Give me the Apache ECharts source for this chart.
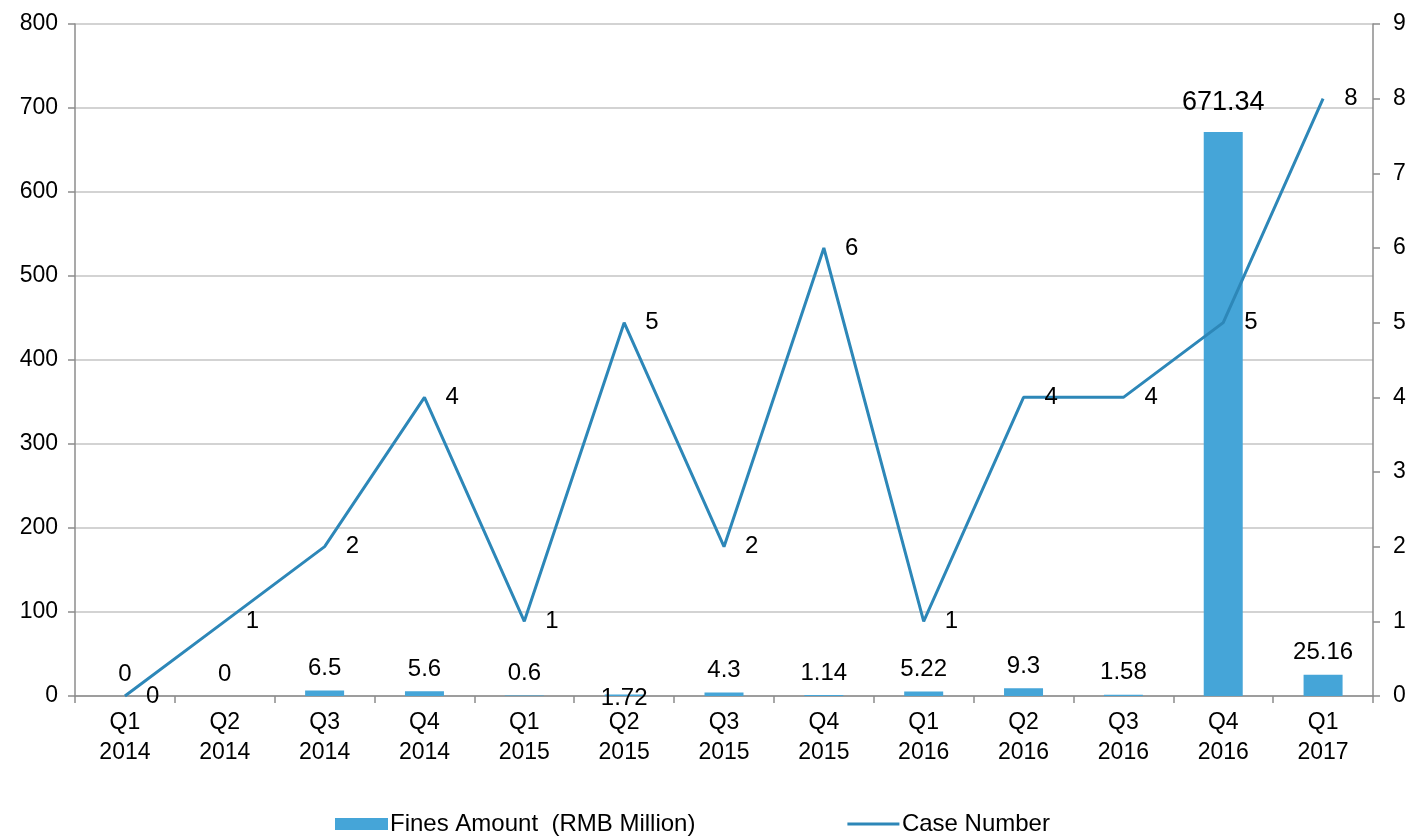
<!DOCTYPE html>
<html>
<head>
<meta charset="utf-8">
<script src="https://cdn.jsdelivr.net/npm/echarts@6/dist/echarts.min.js"></script>
<style>
html,body{margin:0;padding:0;background:#fff;}
#chart{width:1421px;height:836px;}
</style>
</head>
<body>
<div id="chart"></div>
<script>
var quarters = ['Q1','Q2','Q3','Q4','Q1','Q2','Q3','Q4','Q1','Q2','Q3','Q4','Q1'];
var years = ['2014','2014','2014','2014','2015','2015','2015','2015','2016','2016','2016','2016','2017'];
var finesAmount = [0, 0, 6.5, 5.6, 0.6, 1.72, 4.3, 1.14, 5.22, 9.3, 1.58, 671.34, 25.16];
var caseNumber = [0, 1, 2, 4, 1, 5, 2, 6, 1, 4, 4, 5, 8];
var leftTicks = [0, 100, 200, 300, 400, 500, 600, 700, 800];
var rightTicks = [0, 1, 2, 3, 4, 5, 6, 7, 8, 9];

var categories = quarters.map(function (q, i) { return q + '\n' + years[i]; });
var FONT = 'Liberation Sans, Arial, sans-serif';
var axisGrey = '#8c8c8c';
var lineColor = '#2d87b8';

var barData = finesAmount.map(function (v, i) {
  var item = { value: v };
  if (i === 5) item.label = { offset: [0, 26] };
  if (v > 600) item.label = { fontSize: 27, distance: 16 };
  return item;
});

var chart = echarts.init(document.getElementById('chart'));
chart.setOption({
  animation: false,
  backgroundColor: '#ffffff',
  textStyle: { fontFamily: FONT, color: '#000' },
  grid: { left: 75, right: 48, top: 24, bottom: 140, containLabel: false },
  legend: {
    bottom: -5,
    left: 330,
    itemGap: 152,
    itemWidth: 53,
    itemHeight: 12,
    textStyle: { fontFamily: 'Liberation Sans Narrow, Liberation Sans, Arial', fontSize: 24, color: '#000', padding: [0, 0, 0, -3] },
    data: [
      { name: 'Fines Amount  (RMB Million)', icon: 'rect', itemStyle: { color: '#45a5d8' } },
      { name: 'Case Number', icon: 'path://M0,0L0.01,0M0,4.5L52,4.5L52,7.5L0,7.5ZM0,12L0.01,12', itemStyle: { color: lineColor } }
    ]
  },
  xAxis: {
    type: 'category',
    data: categories,
    boundaryGap: true,
    axisLine: { lineStyle: { color: axisGrey, width: 1.5 } },
    axisTick: { show: true, alignWithLabel: false, length: 7, lineStyle: { color: axisGrey, width: 1.5 } },
    axisLabel: { fontSize: 23, color: '#000', lineHeight: 30, margin: 12, fontFamily: FONT }
  },
  yAxis: [
    {
      type: 'value', min: leftTicks[0], max: leftTicks[leftTicks.length - 1], interval: leftTicks[1] - leftTicks[0],
      position: 'left',
      axisLine: { show: true, lineStyle: { color: axisGrey, width: 1.5 } },
      axisTick: { show: true, length: 7, lineStyle: { color: axisGrey, width: 1.5 } },
      splitLine: { show: true, lineStyle: { color: '#c4c4c4', width: 1.5 } },
      axisLabel: { fontSize: 23, color: '#000', margin: 17, fontFamily: FONT }
    },
    {
      type: 'value', min: rightTicks[0], max: rightTicks[rightTicks.length - 1], interval: rightTicks[1] - rightTicks[0],
      position: 'right',
      axisLine: { show: true, lineStyle: { color: axisGrey, width: 1.5 } },
      axisTick: { show: true, length: 7, lineStyle: { color: axisGrey, width: 1.5 } },
      splitLine: { show: false },
      axisLabel: { fontSize: 23, color: '#000', margin: 20, fontFamily: FONT }
    }
  ],
  series: [
    {
      name: 'Fines Amount  (RMB Million)',
      type: 'bar',
      yAxisIndex: 0,
      data: barData,
      barWidth: 39,
      itemStyle: { color: '#45a5d8' },
      label: { show: true, position: 'top', distance: 10, fontSize: 24, color: '#000', fontFamily: FONT }
    },
    {
      name: 'Case Number',
      type: 'line',
      yAxisIndex: 1,
      data: caseNumber,
      symbol: 'circle',
      symbolSize: 0.1,
      showSymbol: true,
      lineStyle: { color: lineColor, width: 3 },
      itemStyle: { color: lineColor },
      label: { show: true, position: 'right', distance: 21, fontSize: 24, color: '#000', fontFamily: FONT },
      z: 3
    }
  ]
});
</script>
</body>
</html>
